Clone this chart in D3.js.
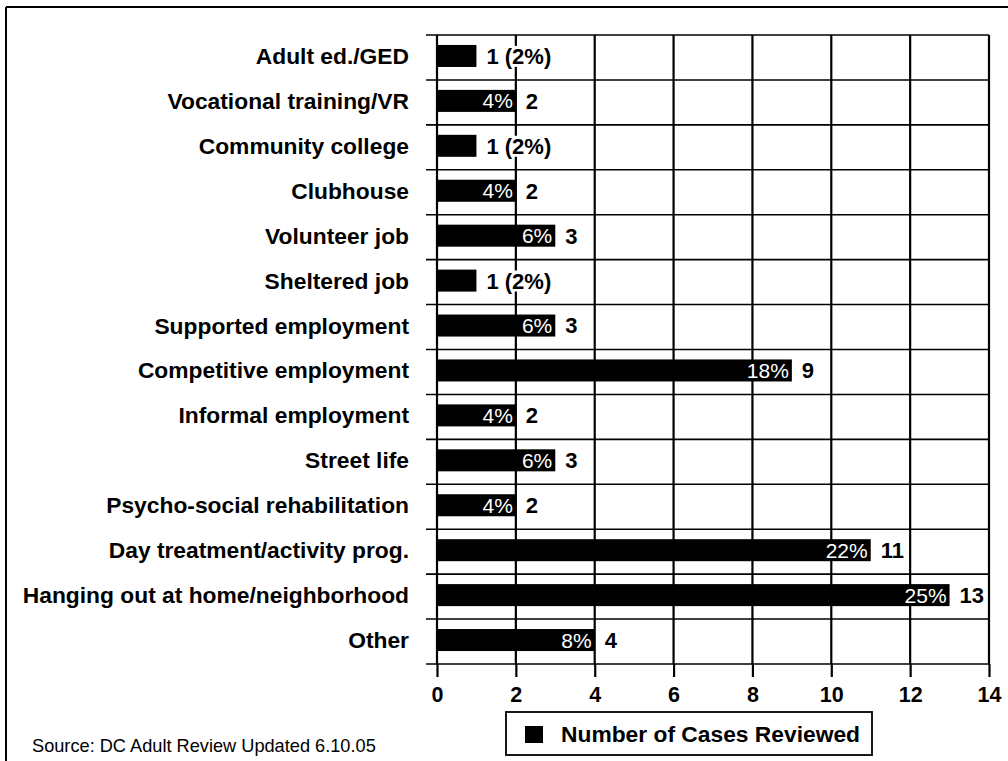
<!DOCTYPE html>
<html>
<head>
<meta charset="utf-8">
<script src="https://cdn.jsdelivr.net/npm/d3@7"></script>
<style>
  html, body { margin: 0; padding: 0; background: #fff; }
  svg { display: block; font-family: "Liberation Sans", Arial, sans-serif; }
</style>
</head>
<body>
<svg id="chart" width="1008" height="761"></svg>
<script>
// Activities of adults in the reviewed cases
const categories = [
  "Adult ed./GED",
  "Vocational training/VR",
  "Community college",
  "Clubhouse",
  "Volunteer job",
  "Sheltered job",
  "Supported employment",
  "Competitive employment",
  "Informal employment",
  "Street life",
  "Psycho-social rehabilitation",
  "Day treatment/activity prog.",
  "Hanging out at home/neighborhood",
  "Other"
];
const casesReviewed = [1, 2, 1, 2, 3, 1, 3, 9, 2, 3, 2, 11, 13, 4];
const percentOfCases = [2, 4, 2, 4, 6, 2, 6, 18, 4, 6, 4, 22, 25, 8];
const xTicks = [0, 2, 4, 6, 8, 10, 12, 14];
const seriesName = "Number of Cases Reviewed";
const sourceNote = "Source: DC Adult Review Updated 6.10.05";

const svg = d3.select("#chart");

const plot = { left: 437, right: 989, top: 35, bottom: 664 };

const x = d3.scaleLinear().domain([0, 14]).range([plot.left, plot.right]);
const y = d3.scaleBand().domain(categories).range([plot.top, plot.bottom]).padding(0);
const barH = y.bandwidth() * 0.49;

// page frame (top and left edges)
svg.append("line").attr("x1", 6).attr("y1", 7).attr("x2", 1008).attr("y2", 7)
  .attr("stroke", "#000").attr("stroke-width", 2);
svg.append("line").attr("x1", 6).attr("y1", 7).attr("x2", 6).attr("y2", 761)
  .attr("stroke", "#000").attr("stroke-width", 2);

// horizontal row dividers, reaching a little left of the plot
const rowEdges = categories.map(c => y(c)).concat([plot.bottom]);
svg.append("g").selectAll("line").data(rowEdges).join("line")
  .attr("x1", plot.left - 11).attr("x2", plot.right)
  .attr("y1", d => d).attr("y2", d => d)
  .attr("stroke", "#000").attr("stroke-width", 1.6);

// x axis with ticks below the plot and vertical grid lines
const axis = d3.axisBottom(x).tickValues(xTicks).tickSize(13).tickPadding(10).tickSizeOuter(0);
const gAxis = svg.append("g").attr("transform", `translate(0,${plot.bottom})`).call(axis);
gAxis.select(".domain").remove();
gAxis.selectAll(".tick line").attr("stroke", "#000").attr("stroke-width", 2.2);
gAxis.selectAll(".tick text")
  .attr("fill", "#000").attr("font-size", 21.5).attr("font-weight", "bold")
  .attr("font-family", "Liberation Sans, Arial, sans-serif");

svg.append("g").selectAll("line").data(xTicks).join("line")
  .attr("x1", d => x(d)).attr("x2", d => x(d))
  .attr("y1", plot.top).attr("y2", plot.bottom)
  .attr("stroke", "#000").attr("stroke-width", 2.2);

// category labels
svg.append("g").selectAll("text").data(categories).join("text")
  .attr("x", 409)
  .attr("y", d => y(d) + y.bandwidth() / 2 - 1.5)
  .attr("dy", "0.35em")
  .attr("text-anchor", "end")
  .attr("font-size", 22.8).attr("font-weight", "bold")
  .text(d => d);

// bars
const rows = categories.map((c, i) => ({ c, v: casesReviewed[i], p: percentOfCases[i] }));
const barY = d => y(d.c) + y.bandwidth() / 2 - 1.5 - barH / 2;

svg.append("g").selectAll("rect").data(rows).join("rect")
  .attr("x", x(0))
  .attr("y", barY)
  .attr("width", d => x(d.v) - x(0))
  .attr("height", barH)
  .attr("fill", "#000");

// percentage inside the bar end (bars wider than one case)
svg.append("g").selectAll("text").data(rows.filter(d => d.v > 1)).join("text")
  .attr("x", d => x(d.v) - 3)
  .attr("y", d => barY(d) + barH / 2)
  .attr("dy", "0.36em")
  .attr("text-anchor", "end")
  .attr("fill", "#fff")
  .attr("font-size", 21)
  .text(d => d.p + "%");

// count after the bar end, on a white backing so grid lines stay behind it
const countG = svg.append("g");
const countLabels = countG.selectAll("g").data(rows).join("g");
const countText = countLabels.append("text")
  .attr("x", d => x(d.v) + 10)
  .attr("y", d => barY(d) + barH / 2)
  .attr("dy", "0.36em")
  .attr("font-size", 22).attr("font-weight", "bold")
  .attr("fill", "#000")
  .text(d => d.v > 1 ? String(d.v) : `${d.v} (${d.p}%)`);
countText.each(function () {
  const b = this.getBBox();
  d3.select(this.parentNode).insert("rect", "text")
    .attr("x", b.x - 2).attr("y", b.y + 2)
    .attr("width", b.width + 4).attr("height", b.height - 4)
    .attr("fill", "#fff");
});

// legend
const lg = svg.append("g");
lg.append("rect").attr("x", 506).attr("y", 712).attr("width", 366).attr("height", 43)
  .attr("fill", "#fff").attr("stroke", "#000").attr("stroke-width", 1.8);
lg.append("rect").attr("x", 525).attr("y", 726).attr("width", 18).attr("height", 17)
  .attr("fill", "#000");
lg.append("text").attr("x", 561).attr("y", 734).attr("dy", "0.35em")
  .attr("font-size", 22.8).attr("font-weight", "bold").text(seriesName);

// source note
svg.append("text").attr("x", 32).attr("y", 746).attr("dy", "0.35em")
  .attr("font-size", 18.2).attr("fill", "#000").text(sourceNote);
</script>
</body>
</html>
